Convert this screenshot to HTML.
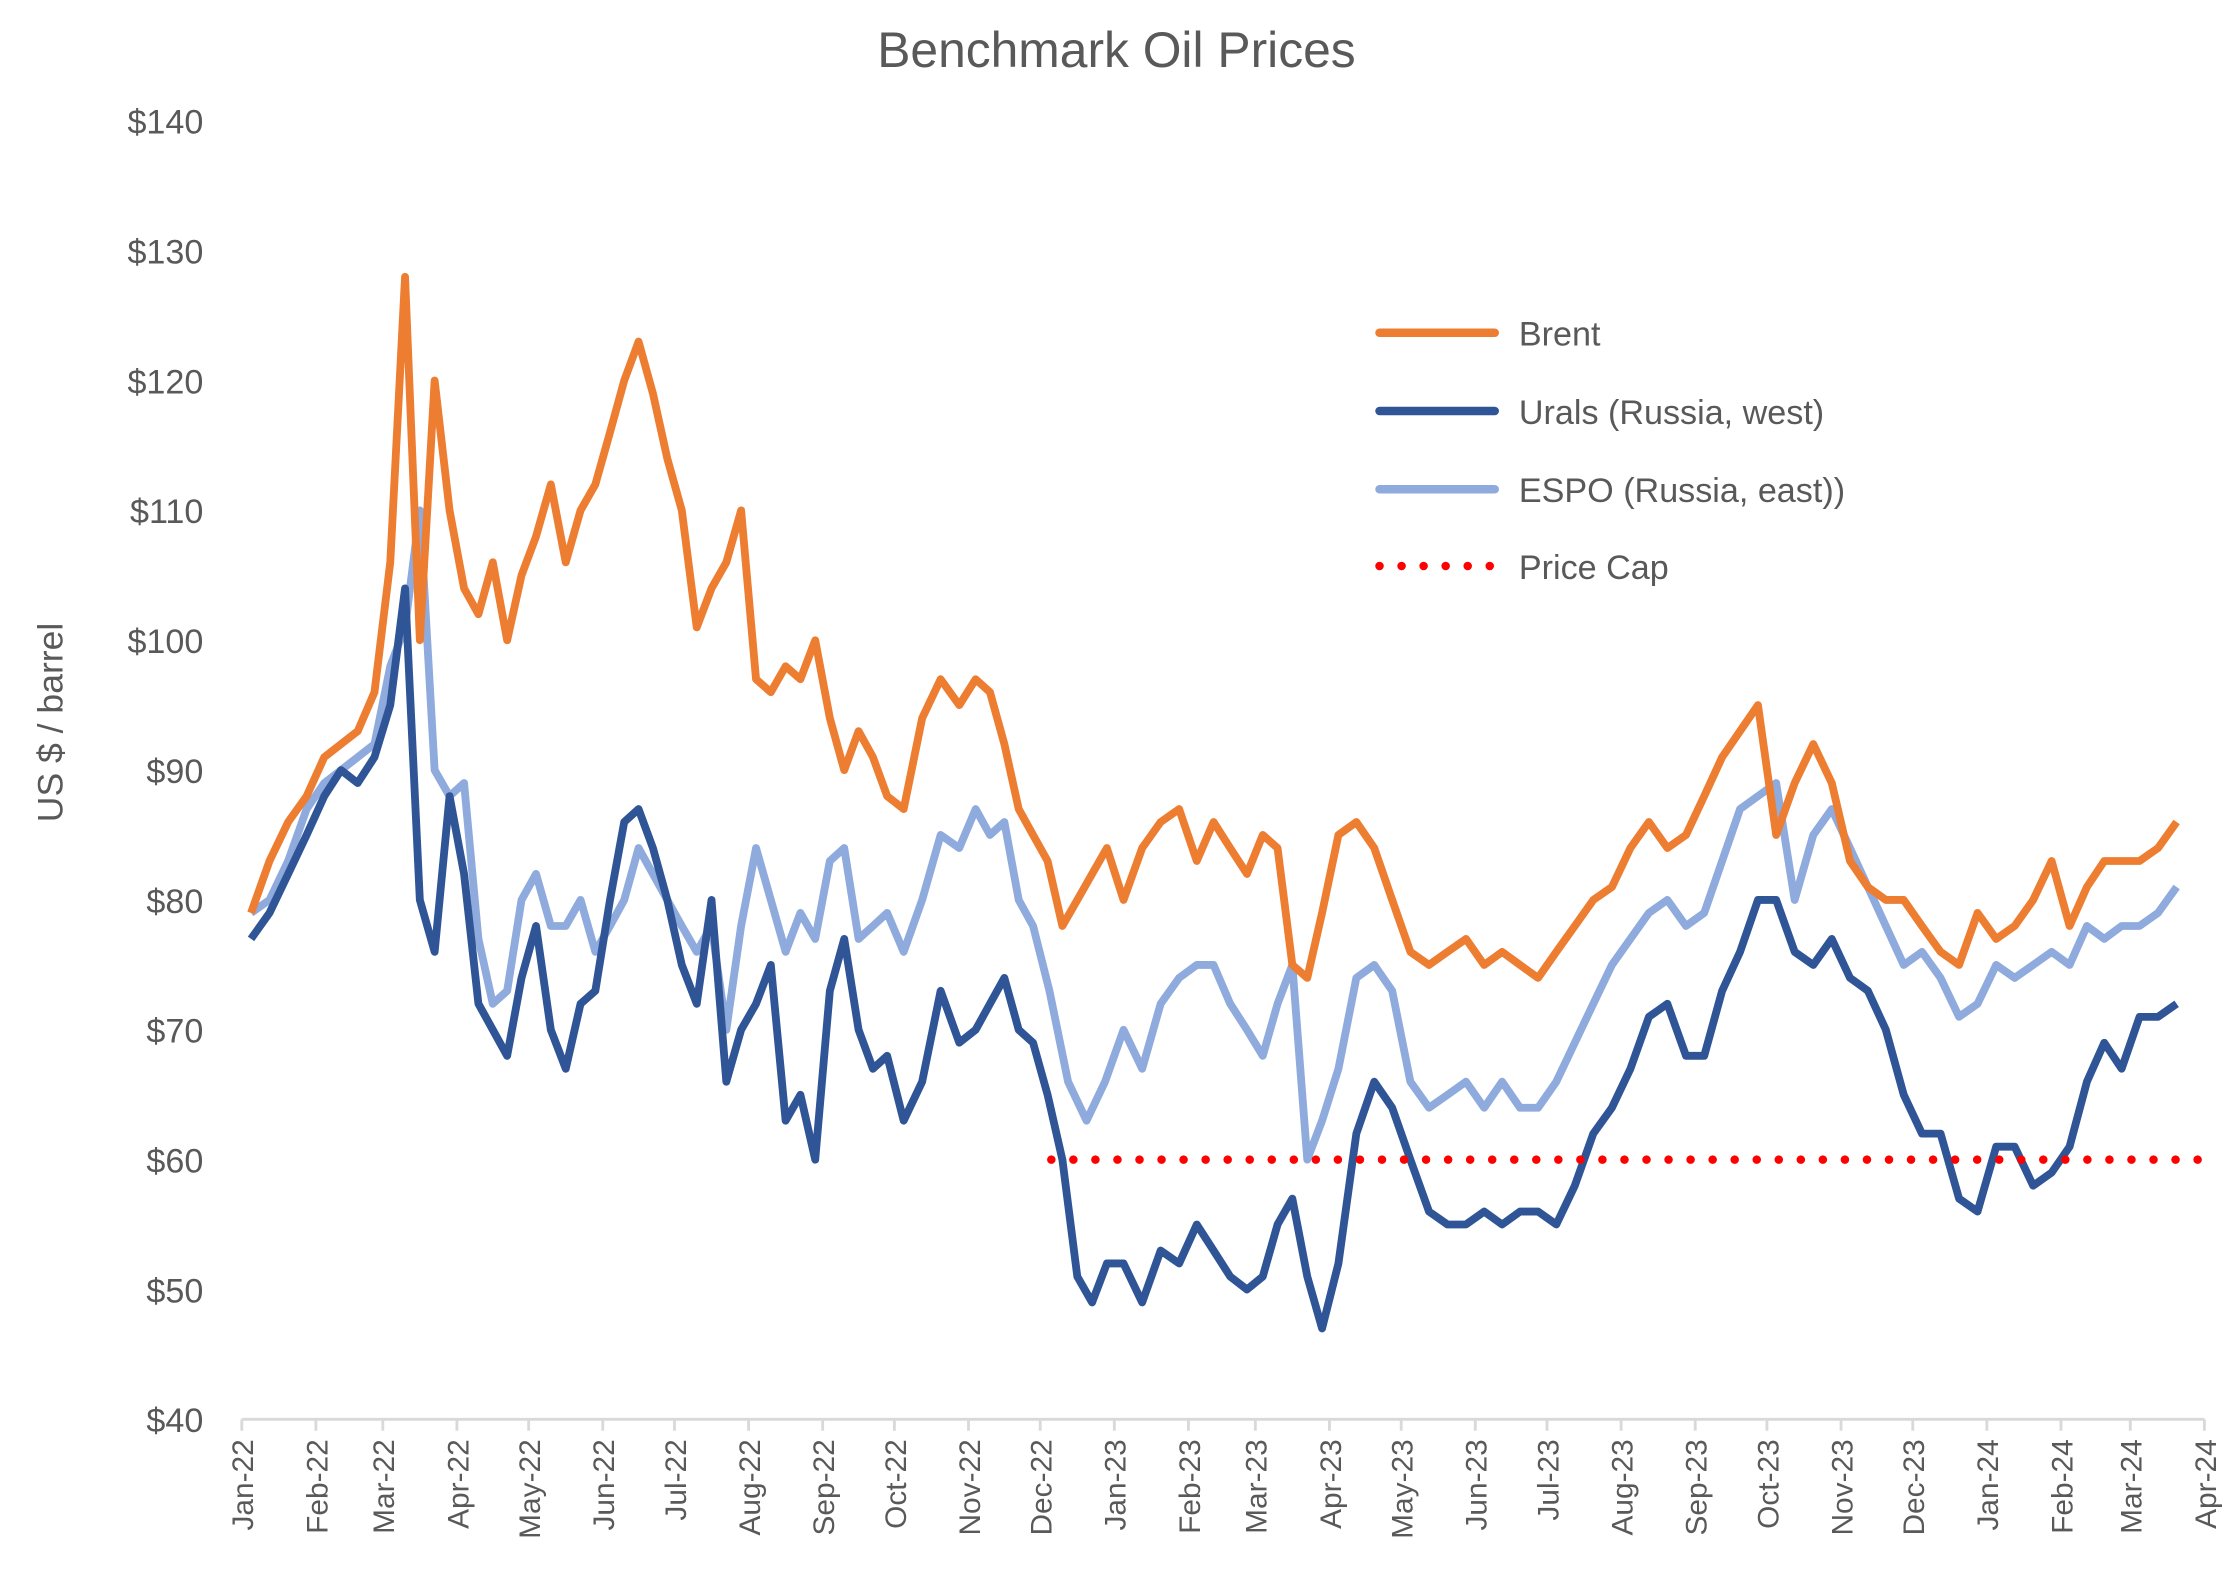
<!DOCTYPE html>
<html><head><meta charset="utf-8"><style>
html,body{margin:0;padding:0;background:#fff}
svg{display:block}
text{font-family:"Liberation Sans",sans-serif;fill:#595959}
</style></head><body>
<svg id="chart" width="2230" height="1589" viewBox="0 0 1568 1117.3" xmlns="http://www.w3.org/2000/svg">
<text x="785" y="47" text-anchor="middle" font-size="35">Benchmark Oil Prices</text>
<text transform="translate(44,508) rotate(-90)" text-anchor="middle" font-size="25">US $ / barrel</text>
<g id="yticks"></g>
<g id="xaxis"></g>
<g id="series"></g>
<g font-size="24">
 <g><line x1="970" y1="234" x2="1051" y2="234" stroke="#ED7D31" stroke-width="6" stroke-linecap="round"/><text x="1068" y="243">Brent</text></g>
 <g><line x1="970" y1="289" x2="1051" y2="289" stroke="#2F5597" stroke-width="6" stroke-linecap="round"/><text x="1068" y="298">Urals (Russia, west)</text></g>
 <g><line x1="970" y1="344" x2="1051" y2="344" stroke="#8FAADC" stroke-width="6" stroke-linecap="round"/><text x="1068" y="353">ESPO (Russia, east))</text></g>
 <g><line x1="970" y1="398" x2="1048" y2="398" stroke="#FF0000" stroke-width="6" stroke-linecap="round" stroke-dasharray="0 15.5"/><text x="1068" y="407">Price Cap</text></g>
</g>
</svg>
<script>
const monthLabels=["Jan-22","Feb-22","Mar-22","Apr-22","May-22","Jun-22","Jul-22","Aug-22","Sep-22","Oct-22","Nov-22","Dec-22","Jan-23","Feb-23","Mar-23","Apr-23","May-23","Jun-23","Jul-23","Aug-23","Sep-23","Oct-23","Nov-23","Dec-23","Jan-24","Feb-24","Mar-24","Apr-24"];
const yTicks=[40,50,60,70,80,90,100,110,120,130,140];
const brent=[[79,83,86,88],[91,92,93,96],[106,128,100,120,110],[104,102,106,100,105],[108,112,106,110,112],[116,120,123,119,114],[110,101,104,106,110],[97,96,98,97,100],[94,90,93,91,88],[87,94,97,95],[97,96,92,87,85],[83,78,80,82,84],[80,84,86,87],[83,86,84,82],[85,84,75,74,79],[85,86,84,80],[76,75,76,77],[75,76,75,74],[76,78,80,81],[84,86,84,85],[88,91,93,95],[85,89,92,89],[83,81,80,80],[78,76,75,79],[77,78,80,83],[78,81,83,83],[83,84,86]];
const urals=[[77,79,82,85],[88,90,89,91],[95,104,80,76,88],[82,72,70,68,74],[78,70,67,72,73],[80,86,87,84,80],[75,72,80,66,70],[72,75,63,65,60],[73,77,70,67,68],[63,66,73,69],[70,72,74,70,69],[65,60,51,49,52],[52,49,53,52],[55,53,51,50],[51,55,57,51,47],[52,62,66,64],[60,56,55,55],[56,55,56,56],[55,58,62,64],[67,71,72,68],[68,73,76,80],[80,76,75,77],[74,73,70,65],[62,62,57,56],[61,61,58,59],[61,66,69,67],[71,71,72]];
const espo=[[79,80,83,87],[89,90,91,92],[98,101,110,90,88],[89,77,72,73,80],[82,78,78,80,76],[78,80,84,82,80],[78,76,78,70,78],[84,80,76,79,77],[83,84,77,78,79],[76,80,85,84],[87,85,86,80,78],[73,66,63,66],[70,67,72,74],[75,75,72,70],[68,72,75,60,63],[67,74,75,73],[66,64,65,66],[64,66,64,64],[66,69,72,75],[77,79,80,78],[79,83,87,88],[89,80,85,87],[84,81,78,75],[76,74,71,72],[75,74,75,76],[75,78,77,78],[78,79,81]];
const priceCap=60;
const capStartMonth=11.15;

const X0=170,X1=1550,Y40=998,PXD=9.13;
const NS="http://www.w3.org/2000/svg";
function monthStartDay(m){const d=new Date(Date.UTC(2022,m,1));return (d-Date.UTC(2022,0,1))/864e5;}
const totalDays=monthStartDay(27);
function xDay(d){return X0+(X1-X0)*d/totalDays;}
function xMonth(mf){const m=Math.floor(mf);return xDay(monthStartDay(m)+(monthStartDay(m+1)-monthStartDay(m))*(mf-m));}
function yVal(v){return Y40-(v-40)*PXD;}
function el(t,a,p){const e=document.createElementNS(NS,t);for(const k in a)e.setAttribute(k,a[k]);p.appendChild(e);return e;}

const yg=document.getElementById('yticks');
yTicks.forEach(v=>{const t=el('text',{x:143,y:yVal(v)+9,'text-anchor':'end','font-size':24},yg);t.textContent='$'+v;

});

const xg=document.getElementById('xaxis');
const ax=el('line',{x1:X0,y1:Y40,x2:X1,y2:Y40,stroke:'#d9d9d9','stroke-width':2},xg);


monthLabels.forEach((lab,i)=>{const x=xMonth(i);
const tk=el('line',{x1:x,y1:Y40,x2:x,y2:Y40+8,stroke:'#d9d9d9','stroke-width':2},xg);


const t=el('text',{transform:`translate(${x+8},1012) rotate(-90)`,'text-anchor':'end','font-size':21},xg);t.textContent=lab;

});

function pts(series){const out=[];series.forEach((arr,m)=>{const frac=(m===series.length-1)?0.75:1;arr.forEach((v,i)=>{out.push([xMonth(m+frac*(i+0.5)/arr.length),yVal(v)]);});});return out;}
const sg=document.getElementById('series');
function drawLine(series,color,name){const p=pts(series).map(q=>q[0].toFixed(1)+','+q[1].toFixed(1)).join(' ');
const l=el('polyline',{points:p,fill:'none',stroke:color,'stroke-width':5.5,'stroke-linejoin':'round'},sg);

}
drawLine(espo,'#8FAADC','espo-line');
drawLine(brent,'#ED7D31','brent-line');
drawLine(urals,'#2F5597','urals-line');
const cap=el('line',{x1:xMonth(capStartMonth),y1:yVal(priceCap),x2:X1,y2:yVal(priceCap),stroke:'#FF0000','stroke-width':6,'stroke-linecap':'round','stroke-dasharray':'0 15.5'},sg);


</script>
</body></html>
